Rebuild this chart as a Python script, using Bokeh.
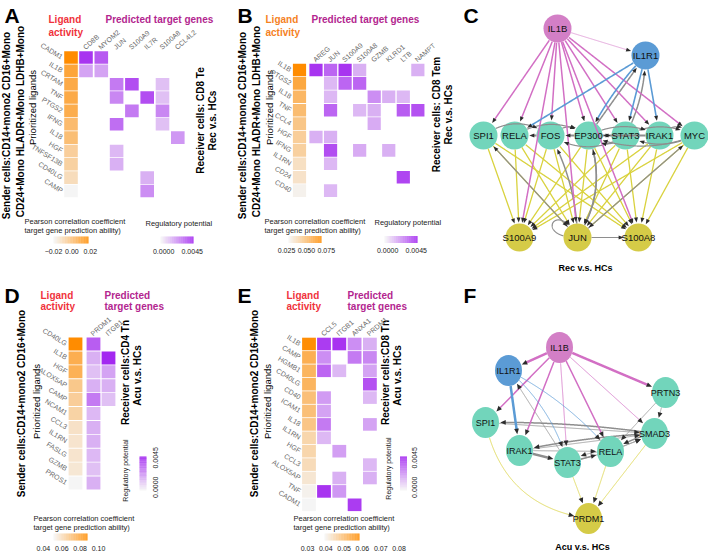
import numpy as np
from bokeh.plotting import figure
from bokeh.models import Range1d, ColumnDataSource
from bokeh.transform import linear_cmap
from bokeh.core.properties import value
from bokeh.embed import file_html
from bokeh.resources import INLINE

FONT = "Liberation Sans"
H = 551.0

# ---------------- data: panel A ----------------
A_ligands = ["CADM1", "IL1B", "CRTAM", "TNF", "PTGS2", "IFNG", "IL18", "HGF", "TNFSF13B", "CD40LG", "CAMP"]
A_activity = [0.018, 0.009, 0.007, 0.007, 0.006, 0.001, 0.000, -0.006, -0.007, -0.011, -0.020]
A_targets = ["CD8B", "MYOM2", "JUN", "S100A9", "IL7R", "S100A8", "CCL4L2"]
A_link_ligand = ["CADM1", "CADM1", "IL1B", "IL1B", "CRTAM", "CRTAM", "CRTAM", "TNF", "TNF", "TNF",
                 "PTGS2", "PTGS2", "IFNG", "IFNG", "IL18", "HGF", "TNFSF13B", "CD40LG", "CAMP"]
A_link_target = ["CD8B", "MYOM2", "CD8B", "MYOM2", "JUN", "S100A9", "S100A8", "JUN", "IL7R", "S100A8",
                 "S100A9", "S100A8", "JUN", "S100A8", "CCL4L2", "JUN", "JUN", "IL7R", "IL7R"]
A_link_potential = [0.0042, 0.0033, 0.0015, 0.0015, 0.0025, 0.0036, 0.0008, 0.0022, 0.0036, 0.0008,
                    0.0025, 0.0022, 0.0028, 0.0008, 0.0018, 0.0010, 0.0012, 0.0012, 0.0020]
A_activity_range = [-0.020, 0.018]
A_activity_ticks = [-0.02, 0.0, 0.02]
A_activity_ticklabels = ["\u22120.02", "0.00", "0.02"]

# ---------------- data: panel B ----------------
B_ligands = ["IL1B", "PTGS2", "IL18", "TNF", "CCL4", "HGF", "IFNG", "IL1RN", "CD24", "CD40"]
B_activity = [0.069, 0.058, 0.052, 0.050, 0.046, 0.043, 0.042, 0.036, 0.035, 0.029]
B_targets = ["AREG", "JUN", "S100A9", "S100A8", "GZMB", "KLRD1", "LTB", "NAMPT"]
B_link_ligand = ["IL1B", "IL1B", "IL1B", "IL1B", "IL1B", "PTGS2", "PTGS2", "PTGS2",
                 "IL18", "IL18", "IL18", "IL18", "TNF", "TNF", "TNF", "TNF", "TNF",
                 "CCL4", "HGF", "HGF", "IFNG", "IFNG", "IFNG", "IL1RN", "CD24", "CD40"]
B_link_target = ["AREG", "JUN", "S100A9", "S100A8", "NAMPT", "JUN", "S100A9", "S100A8",
                 "JUN", "GZMB", "KLRD1", "LTB", "JUN", "S100A8", "GZMB", "LTB", "NAMPT",
                 "GZMB", "AREG", "JUN", "JUN", "S100A8", "KLRD1", "JUN", "LTB", "JUN"]
B_link_potential = [0.0042, 0.0030, 0.0042, 0.0012, 0.0012, 0.0010, 0.0030, 0.0030,
                    0.0010, 0.0020, 0.0012, 0.0010, 0.0030, 0.0010, 0.0012, 0.0032, 0.0035,
                    0.0013, 0.0012, 0.0012, 0.0036, 0.0013, 0.0012, 0.0010, 0.0038, 0.0010]
B_activity_range = [0.0275, 0.069]
B_activity_ticks = [0.025, 0.050, 0.075]
B_activity_ticklabels = ["0.025", "0.050", "0.075"]

# ---------------- data: panel D ----------------
D_ligands = ["CD40LG", "IL1B", "HGF", "ALOX5AP", "CAMP", "NCAM1", "CCL3", "IL1RN", "FASLG", "GZMB", "PROS1"]
D_activity = [0.088, 0.076, 0.075, 0.067, 0.065, 0.063, 0.058, 0.057, 0.057, 0.056, 0.051]
D_targets = ["PRDM1", "ITGB1"]
D_link_ligand = ["CD40LG", "IL1B", "HGF", "ALOX5AP", "CAMP", "NCAM1", "CCL3", "IL1RN", "FASLG", "GZMB", "PROS1",
                 "IL1B", "HGF", "ALOX5AP", "CAMP"]
D_link_target = ["PRDM1"] * 11 + ["ITGB1"] * 4
D_link_potential = [0.0032, 0.0012, 0.0008, 0.0012, 0.0025, 0.0010, 0.0012, 0.0012, 0.0010, 0.0008, 0.0012,
                    0.0045, 0.0015, 0.0012, 0.0008]
D_activity_range = [0.051, 0.088]
D_activity_ticks = [0.04, 0.06, 0.08, 0.10]
D_activity_ticklabels = ["0.04", "0.06", "0.08", "0.10"]

# ---------------- data: panel E ----------------
E_ligands = ["IL1B", "CAMP", "HGMB1", "CD40LG", "CD40", "ICAM1", "IL18", "IL1RN", "HGF", "CCL3", "ALOX5AP", "TNF", "CADM1"]
E_activity = [0.058, 0.052, 0.051, 0.051, 0.049, 0.049, 0.048, 0.045, 0.045, 0.044, 0.042, 0.040, 0.039]
E_targets = ["CCL5", "ITGB1", "ANXA1", "PRDM1"]
E_link_ligand = ["IL1B", "IL1B", "IL1B", "IL1B", "CAMP", "CAMP", "CAMP", "HGMB1", "HGMB1", "HGMB1",
                 "CD40LG", "CD40", "CD40", "ICAM1", "IL18", "IL18", "IL1RN", "HGF", "CCL3",
                 "ALOX5AP", "ALOX5AP", "TNF", "TNF", "CADM1"]
E_link_target = ["CCL5", "ITGB1", "ANXA1", "PRDM1", "CCL5", "ANXA1", "PRDM1", "CCL5", "ITGB1", "PRDM1",
                 "PRDM1", "CCL5", "PRDM1", "CCL5", "CCL5", "PRDM1", "CCL5", "ITGB1", "PRDM1",
                 "ITGB1", "PRDM1", "CCL5", "ITGB1", "ANXA1"]
E_link_potential = [0.0040, 0.0042, 0.0020, 0.0012, 0.0020, 0.0025, 0.0022, 0.0030, 0.0010, 0.0015,
                    0.0035, 0.0017, 0.0010, 0.0015, 0.0025, 0.0015, 0.0010, 0.0016, 0.0010,
                    0.0012, 0.0012, 0.0042, 0.0018, 0.0040]
E_activity_range = [0.0393, 0.0584]
E_activity_ticks = [0.03, 0.04, 0.05, 0.06, 0.07, 0.08]
E_activity_ticklabels = ["0.03", "0.04", "0.05", "0.06", "0.07", "0.08"]

POT_RANGE = [-0.0005, 0.0047]
POT_TICKS = [0.0, 0.0045]
POT_TICKLABELS = ["0.0000", "0.0045"]

# ---------------- data: network C ----------------
C_names = ["IL1B", "IL1R1", "SPI1", "RELA", "FOS", "EP300", "STAT3", "IRAK1", "MYC", "S100A9", "JUN", "S100A8"]
C_roles = ["ligand", "receptor"] + ["tf"] * 7 + ["target"] * 3
C_x = [557, 645, 483, 514, 550, 588, 625, 659, 694, 519, 577, 638]
C_y = [28, 55, 135, 135, 135, 135, 135, 135, 135, 237, 237, 237]
C_tfs = ["SPI1", "RELA", "FOS", "EP300", "STAT3", "IRAK1", "MYC"]
C_tgts = ["S100A9", "JUN", "S100A8"]
C_gray_src = ["SPI1", "RELA", "FOS", "EP300", "FOS", "EP300", "STAT3", "EP300", "IRAK1", "STAT3", "MYC",
              "IRAK1", "MYC", "STAT3", "EP300", "STAT3", "JUN", "JUN", "JUN", "EP300", "JUN", "JUN", "JUN"]
C_gray_dst = ["FOS", "EP300", "RELA", "FOS", "EP300", "STAT3", "EP300", "IRAK1", "EP300", "MYC", "STAT3",
              "MYC", "EP300", "FOS", "IL1R1", "IL1R1", "SPI1", "FOS", "EP300", "JUN", "MYC", "S100A8", "JUN"]
C_gray_w = [1.2, 1.2, 2.0, 2.0, 1.2, 2.0, 1.2, 1.2, 2.0, 1.2, 1.2, 1.2, 1.2, 1.2, 1.5, 1.5, 1.2, 1.5, 1.5, 1.5, 1.2, 1.2, 1.2]
C_gray_bend = [-0.35, -0.3, 0.0, 0.0, -0.45, 0.0, -0.45, -0.25, 0.0, -0.25, -0.25,
               -0.5, -0.2, -0.3, 0.0, 0.12, 0.0, 0.12, 0.25, -0.25, 0.0, 0.0, -2.6]
C_pink_dst = ["IL1R1", "SPI1", "RELA", "FOS", "EP300", "STAT3", "IRAK1", "MYC", "S100A9", "JUN", "S100A8"]
C_pink_w = [0.6, 1.5, 1.5, 1.5, 1.5, 1.5, 1.5, 1.5, 1.5, 1.5, 1.5]
C_blue_dst = ["RELA", "EP300", "STAT3", "IRAK1"]
C_blue_bend = [0.0, 0.08, 0.0, 0.0]

# ---------------- data: network F ----------------
F_names = ["IL1B", "IL1R1", "PRTN3", "SPI1", "SMAD3", "IRAK1", "STAT3", "RELA", "PRDM1"]
F_roles = ["ligand", "receptor", "tf", "tf", "tf", "tf", "tf", "tf", "target"]
F_x = [559, 508, 665, 485, 654, 519, 567, 610, 588]
F_y = [347, 370, 392, 422, 433, 450, 462, 451, 518]
F_src = ["SPI1", "STAT3", "RELA", "SMAD3",
         "STAT3", "PRTN3", "PRTN3", "SPI1", "SMAD3", "IRAK1", "SMAD3", "IRAK1", "STAT3", "RELA", "RELA", "SMAD3", "IRAK1", "STAT3",
         "IL1B", "IL1B", "IL1B", "IL1B", "IL1B", "IL1B", "IL1B",
         "IL1R1", "IL1R1", "IL1R1"]
F_dst = ["PRDM1", "PRDM1", "PRDM1", "PRDM1",
         "IL1R1", "SMAD3", "RELA", "SMAD3", "SPI1", "SMAD3", "IRAK1", "STAT3", "RELA", "STAT3", "SMAD3", "RELA", "RELA", "SMAD3",
         "IL1R1", "SPI1", "IRAK1", "STAT3", "RELA", "SMAD3", "PRTN3",
         "IRAK1", "STAT3", "RELA"]
F_kind = ["yellow"] * 4 + ["gray"] * 14 + ["pink"] * 7 + ["blue"] * 3
F_w = [0.8, 0.8, 0.8, 0.8,
       0.8, 0.8, 0.8, 0.8, 1.5, 0.8, 1.5, 2.5, 1.5, 0.8, 0.8, 1.5, 0.8, 0.8,
       2.5, 1.5, 1.5, 0.8, 1.5, 0.8, 2.5,
       2.5, 0.8, 0.8]
F_bend = [0.35, 0.0, 0.0, 0.0,
          0.0, 0.0, 0.0, 0.0, 0.04, 0.0, 0.04, 0.0, 0.0, 0.15, 0.0, 0.1, 0.0, 0.05,
          0.0, 0.0, 0.0, 0.0, 0.0, 0.0, 0.0,
          0.0, -0.15, -0.1]

# ---------------- helpers ----------------
def ramp(c0, c1, n=256):
    out = []
    for i in range(n):
        t = i / (n - 1)
        r, g, b = [int(round(a + (bb - a) * t)) for a, bb in zip(c0, c1)]
        out.append("#%02x%02x%02x" % (r, g, b))
    return out

ORANGE_PAL = ramp((245, 245, 245), (255, 140, 0))
PURPLE_PAL = ramp((245, 245, 245), (160, 32, 240))
RED_T = "#f0323c"
ORANGE_T = "#f5821f"
MAG_T = "#b3268f"
GRAY_T = "#6a6a6a"

p = figure(width=708, height=551, x_range=Range1d(0, 708), y_range=Range1d(0, 551),
           output_backend="svg", toolbar_location=None, min_border=0,
           x_axis_location=None, y_axis_location=None, background_fill_color="white")
p.grid.visible = False
p.outline_line_color = None


def texts(xs, ys, ss, size, color="black", bold=False, angle=0.0, align="left", baseline="middle"):
    p.text(x=list(xs), y=[H - y for y in ys], text=list(ss), angle=angle, text_align=align,
           text_baseline=baseline, text_color=color, text_font_size=f"{size}px",
           text_font_style="bold" if bold else "normal", text_font=value(FONT))


def heatmap(ligs, act, tgts, l_lig, l_tgt, l_val, lay, orng):
    lx, tx0, dx, y0, dy, cw, ch = lay
    n = len(ligs)
    ry = [y0 + i * dy for i in range(n)]
    src = ColumnDataSource(dict(x=[lx] * n, y=[H - y for y in ry], v=act))
    p.rect("x", "y", width=cw, height=ch, source=src,
           fill_color=linear_cmap("v", ORANGE_PAL, orng[0], orng[1]), line_color=None)
    xs = [tx0 + tgts.index(t) * dx for t in l_tgt]
    ys = [H - (y0 + ligs.index(l) * dy) for l in l_lig]
    src2 = ColumnDataSource(dict(x=xs, y=ys, v=l_val))
    p.rect("x", "y", width=cw, height=ch, source=src2,
           fill_color=linear_cmap("v", PURPLE_PAL, POT_RANGE[0], POT_RANGE[1]), line_color=None)
    texts([lx - cw / 2 - 2] * n, ry, ligs, 7, GRAY_T, angle=-0.55, align="right")
    texts([tx0 + j * dx - 2 for j in range(len(tgts))], [y0 - ch / 2 - 3] * len(tgts), tgts, 7,
          GRAY_T, angle=0.72, align="left")


def hbar(x0, x1, yc, rng, pal, ticks, labels):
    n = 48
    v = np.linspace(rng[0], rng[1], n)
    w = (x1 - x0) / n
    xs = x0 + w * (np.arange(n) + 0.5)
    src = ColumnDataSource(dict(x=xs, y=[H - yc] * n, v=v))
    p.rect("x", "y", width=w * 1.05, height=7, source=src,
           fill_color=linear_cmap("v", pal, rng[0], rng[1]), line_color=None)
    tx = [x0 + (t - rng[0]) / (rng[1] - rng[0]) * (x1 - x0) for t in ticks]
    texts(tx, [yc + 11] * len(ticks), labels, 7, "#222222", align="center")


def vbar(xc, ytop, ybot, rng, pal, ticks, labels, lab_x):
    n = 48
    v = np.linspace(rng[0], rng[1], n)
    hgt = (ybot - ytop) / n
    ys = ybot - hgt * (np.arange(n) + 0.5)
    src = ColumnDataSource(dict(x=[xc] * n, y=[H - y for y in ys], v=v))
    p.rect("x", "y", width=7, height=hgt * 1.05, source=src,
           fill_color=linear_cmap("v", pal, rng[0], rng[1]), line_color=None)
    ty = [ybot - (t - rng[0]) / (rng[1] - rng[0]) * (ybot - ytop) for t in ticks]
    texts([lab_x] * len(ticks), ty, labels, 7, "#222222", angle=np.pi / 2, align="center")


def bez2(P0, C, P2, n=300):
    t = np.linspace(0, 1, n)[:, None]
    return (1 - t) ** 2 * P0 + 2 * (1 - t) * t * C + t ** 2 * P2


def bez3(P0, C1, C2, P3, n=300):
    t = np.linspace(0, 1, n)[:, None]
    return (1 - t) ** 3 * P0 + 3 * (1 - t) ** 2 * t * C1 + 3 * (1 - t) * t ** 2 * C2 + t ** 3 * P3


def edge_geom(P0, P1, r, bend):
    if np.allclose(P0, P1):
        a = bend
        L = 3.2 * r[0]
        C1 = P0 + L * np.array([np.cos(a - 0.55), np.sin(a - 0.55)])
        C2 = P0 + L * np.array([np.cos(a + 0.55), np.sin(a + 0.55)])
        pts = bez3(P0, C1, C2, P1)
    else:
        d = P1 - P0
        L = np.hypot(*d)
        nrm = np.array([-d[1], d[0]]) / L
        C = (P0 + P1) / 2 + bend * L * nrm
        pts = bez2(P0, C, P1)
    out0 = ((pts[:, 0] - P0[0]) / r[0]) ** 2 + ((pts[:, 1] - P0[1]) / r[1]) ** 2 >= 1
    out1 = ((pts[:, 0] - P1[0]) / (r[0] + 0.8)) ** 2 + ((pts[:, 1] - P1[1]) / (r[1] + 0.8)) ** 2 >= 1
    i0 = int(np.argmax(out0))
    j = len(pts) - 1 - int(np.argmax(out1[::-1]))
    seg = pts[i0:j + 1]
    if len(seg) < 2:
        seg = pts[[i0, min(i0 + 1, len(pts) - 1)]]
    return seg


NODE_FILL = {"ligand": "#d37fc6", "receptor": "#5b9bd5", "tf": "#72d5bb", "target": "#d5cb47"}
EDGE_COL = {"pink": "#d26fc4", "blue": "#5b9bd5", "gray": "#8e8e8e", "yellow": "#d9d23e"}


def network(names, roles, xs, ys, rx, ry, esrc, edst, ekind, ew, ebend, fsize, edges_over_nodes, al, aw):
    pos = {n: np.array([x, y], float) for n, x, y in zip(names, xs, ys)}
    lx, ly, lc, lw, tx, ty = [], [], [], [], [], []
    for s, d, k, w, b in zip(esrc, edst, ekind, ew, ebend):
        seg = edge_geom(pos[s], pos[d], (rx, ry), b)
        tip = seg[-1]
        back = seg[max(0, len(seg) - 8)]
        v = tip - back
        nv = np.hypot(*v)
        v = v / nv if nv > 1e-9 else np.array([1.0, 0.0])
        base = tip - al * v
        perp = np.array([-v[1], v[0]])
        keep = np.hypot(seg[:, 0] - tip[0], seg[:, 1] - tip[1]) >= al * 0.8
        line = np.vstack([seg[keep], base[None, :]])
        lx.append(list(line[:, 0]))
        ly.append([H - yv for yv in line[:, 1]])
        lc.append(EDGE_COL[k])
        lw.append(w)
        tri = np.array([tip, base + aw * perp, base - aw * perp])
        tx.append(list(tri[:, 0]))
        ty.append([H - yv for yv in tri[:, 1]])

    def draw_edges():
        p.multi_line(xs="xs", ys="ys", line_color="c", line_width="w",
                     source=ColumnDataSource(dict(xs=lx, ys=ly, c=lc, w=lw)))
        p.patches(xs=tx, ys=ty, fill_color="#2b2b2b", line_color=None)

    def draw_nodes():
        p.ellipse(x=list(xs), y=[H - y for y in ys], width=2 * rx, height=2 * ry,
                  fill_color=[NODE_FILL[r] for r in roles], line_color=None)

    if edges_over_nodes:
        draw_nodes()
        draw_edges()
    else:
        draw_edges()
        draw_nodes()
    texts(xs, ys, names, fsize, "#111111", align="center")


# ---------------- panel A ----------------
texts([4], [3], ["A"], 21, bold=True, baseline="top")
texts([48, 48], [19, 32], ["Ligand", "activity"], 10, RED_T, bold=True)
texts([105], [19], ["Predicted target genes"], 10, MAG_T, bold=True)
texts([6], [125], ["Sender cells:CD14+mono2 CD16+Mono"], 10, bold=True, angle=np.pi / 2, align="center")
texts([20], [121], ["CD24+Mono HLADR+Mono LDHB+Mono"], 10, bold=True, angle=np.pi / 2, align="center")
texts([32], [107], ["Prioritized ligands"], 9.5, angle=np.pi / 2, align="center")
texts([200], [120], ["Receiver cells: CD8 Te"], 10, bold=True, angle=np.pi / 2, align="center")
texts([212], [120], ["Rec v.s. HCs"], 10, bold=True, angle=np.pi / 2, align="center")
heatmap(A_ligands, A_activity, A_targets, A_link_ligand, A_link_target, A_link_potential,
        (70.5, 85.5, 15.3, 57, 13.35, 13.6, 12.6), A_activity_range)
texts([24, 24], [221, 230], ["Pearson correlation coefficient", "target gene prediction ability)"], 7.5, "#222222")
hbar(53, 88, 239.5, A_activity_range, ORANGE_PAL, A_activity_ticks, A_activity_ticklabels)
texts([145], [223], ["Regulatory potential"], 7.5, "#222222")
hbar(160, 193, 239.5, POT_RANGE, PURPLE_PAL, POT_TICKS, POT_TICKLABELS)

# ---------------- panel B ----------------
texts([237], [3], ["B"], 21, bold=True, baseline="top")
texts([265, 265], [19, 32], ["Ligand", "activity"], 10, ORANGE_T, bold=True)
texts([311], [19], ["Predicted target genes"], 10, MAG_T, bold=True)
texts([242], [125], ["Sender cells:CD14+mono2 CD16+Mono"], 10, bold=True, angle=np.pi / 2, align="center")
texts([256], [121], ["CD24+Mono HLADR+Mono LDHB+Mono"], 10, bold=True, angle=np.pi / 2, align="center")
texts([269], [107], ["Prioritized ligands"], 9.5, angle=np.pi / 2, align="center")
texts([436], [114], ["Receiver cells: CD8 Tem"], 10, bold=True, angle=np.pi / 2, align="center")
texts([448], [114], ["Rec v.s. HCs"], 10, bold=True, angle=np.pi / 2, align="center")
heatmap(B_ligands, B_activity, B_targets, B_link_ligand, B_link_target, B_link_potential,
        (299, 315.5, 14.55, 69.5, 13.4, 13.2, 12.6), B_activity_range)
texts([264, 264], [221, 230], ["Pearson correlation coefficient", "target gene prediction ability)"], 7.5, "#222222")
hbar(288, 321, 239, B_activity_range, ORANGE_PAL, B_activity_ticks, B_activity_ticklabels)
texts([374], [222], ["Regulatory potential"], 7.5, "#222222")
hbar(384, 417, 239, POT_RANGE, PURPLE_PAL, POT_TICKS, POT_TICKLABELS)

# ---------------- panel C ----------------
texts([463], [3], ["C"], 21, bold=True, baseline="top")
c_src, c_dst, c_kind, c_w, c_bend = [], [], [], [], []
for tf in C_tfs:
    for tg in C_tgts:
        c_src.append(tf); c_dst.append(tg); c_kind.append("yellow"); c_w.append(1.3); c_bend.append(0.0)
for s, d, w, b in zip(C_gray_src, C_gray_dst, C_gray_w, C_gray_bend):
    c_src.append(s); c_dst.append(d); c_kind.append("gray"); c_w.append(w); c_bend.append(b)
for d, w in zip(C_pink_dst, C_pink_w):
    c_src.append("IL1B"); c_dst.append(d); c_kind.append("pink"); c_w.append(w); c_bend.append(0.0)
for d, b in zip(C_blue_dst, C_blue_bend):
    c_src.append("IL1R1"); c_dst.append(d); c_kind.append("blue"); c_w.append(1.6); c_bend.append(b)
network(C_names, C_roles, C_x, C_y, 14, 14, c_src, c_dst, c_kind, c_w, c_bend, 9.5, True, 5, 2.0)
texts([585], [267], ["Rec v.s. HCs"], 9, bold=True, align="center")

# ---------------- panel D ----------------
texts([4], [283], ["D"], 21, bold=True, baseline="top")
texts([40, 40], [295, 306], ["Ligand", "activity"], 10, RED_T, bold=True)
texts([104, 104], [295, 306], ["Predicted", "target genes"], 10, MAG_T, bold=True)
texts([21], [403], ["Sender cells:CD14+mono2 CD16+Mono"], 10, bold=True, angle=np.pi / 2, align="center")
texts([36], [401], ["Prioritized ligands"], 9.5, angle=np.pi / 2, align="center")
texts([125], [372], ["Receiver cells:CD4 Tn"], 10, bold=True, angle=np.pi / 2, align="center")
texts([137], [375], ["Acu v.s. HCs"], 10, bold=True, angle=np.pi / 2, align="center")
heatmap(D_ligands, D_activity, D_targets, D_link_ligand, D_link_target, D_link_potential,
        (75, 93, 15, 343.5, 13.9, 13.8, 13.0), D_activity_range)
texts([33, 33], [518, 527], ["Pearson correlation coefficient", "target gene prediction ability)"], 7.5, "#222222")
hbar(53, 87, 536.5, D_activity_range, ORANGE_PAL, D_activity_ticks, D_activity_ticklabels)
texts([125], [470], ["Regulatory potential"], 7, "#222222", angle=np.pi / 2, align="center")
vbar(142.5, 456, 490, POT_RANGE, PURPLE_PAL, POT_TICKS, POT_TICKLABELS, 155)

# ---------------- panel E ----------------
texts([237], [283], ["E"], 21, bold=True, baseline="top")
texts([286, 286], [295, 306], ["Ligand", "activity"], 10, RED_T, bold=True)
texts([347, 347], [295, 306], ["Predicted", "target genes"], 10, MAG_T, bold=True)
texts([254], [403], ["Sender cells:CD14+mono2 CD16+Mono"], 10, bold=True, angle=np.pi / 2, align="center")
texts([267], [401], ["Prioritized ligands"], 9.5, angle=np.pi / 2, align="center")
texts([385], [372], ["Receiver cells:CD8 Tn"], 10, bold=True, angle=np.pi / 2, align="center")
texts([397], [375], ["Acu v.s. HCs"], 10, bold=True, angle=np.pi / 2, align="center")
heatmap(E_ligands, E_activity, E_targets, E_link_ligand, E_link_target, E_link_potential,
        (308.5, 323.5, 15.3, 343.5, 13.4, 13.8, 12.6), E_activity_range)
texts([293, 293], [518, 527], ["Pearson correlation coefficient", "target gene prediction ability)"], 7.5, "#222222")
hbar(324, 359, 536.5, E_activity_range, ORANGE_PAL, E_activity_ticks, E_activity_ticklabels)
texts([388], [468], ["Regulatory potential"], 7, "#222222", angle=np.pi / 2, align="center")
vbar(403, 456, 490, POT_RANGE, PURPLE_PAL, POT_TICKS, POT_TICKLABELS, 414)

# ---------------- panel F ----------------
texts([463], [283], ["F"], 21, bold=True, baseline="top")
network(F_names, F_roles, F_x, F_y, 13.5, 15.5, F_src, F_dst, F_kind, F_w, F_bend, 9, False, 5.5, 2.4)
texts([582], [546], ["Acu v.s. HCs"], 9, bold=True, align="center")

open("out.html", "w").write(file_html(p, INLINE, title="chart"))
